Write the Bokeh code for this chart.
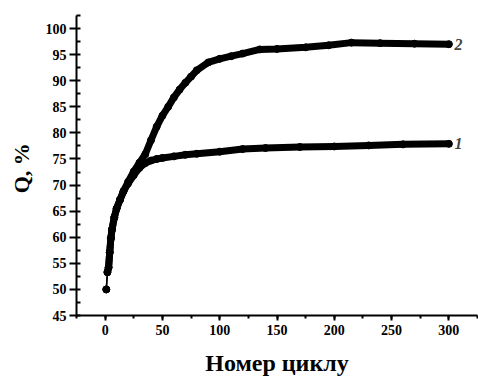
from bokeh.plotting import figure
from bokeh.models import Range1d, SingleIntervalTicker, Label
from bokeh.embed import file_html
from bokeh.resources import INLINE

# Curve 1
cycles_1 = [1, 2, 3, 4, 5, 6, 8, 10, 13, 16, 20, 25, 30, 35, 40, 45, 50, 60, 70, 80,
            100, 120, 140, 170, 200, 230, 260, 300]
q_1 = [50.0, 53.3, 54.2, 57.1, 59.8, 61.5, 63.8, 65.5, 67.2, 68.8, 70.3, 71.9, 73.3, 74.2,
       74.7, 75.0, 75.2, 75.5, 75.8, 76.0, 76.4, 76.9, 77.1, 77.3, 77.4, 77.6, 77.8, 77.9]

# Curve 2
cycles_2 = [1, 2, 3, 4, 5, 6, 8, 10, 13, 16, 20, 25, 30, 35, 40, 45, 50, 55, 60, 65, 70,
            75, 80, 90, 100, 110, 120, 135, 150, 175, 195, 215, 240, 270, 300]
q_2 = [50.0, 53.3, 54.2, 57.1, 59.8, 61.5, 63.8, 65.5, 67.2, 68.8, 70.6, 72.6, 74.3, 75.9,
       78.6, 81.2, 83.3, 85.0, 86.8, 88.3, 89.6, 90.8, 92.0, 93.5, 94.2, 94.7, 95.2, 96.0,
       96.1, 96.4, 96.8, 97.3, 97.2, 97.1, 97.0]

curve_labels = ["1", "2"]

FONT = "Liberation Serif"

p = figure(width=478, height=378, output_backend="svg", toolbar_location=None,
           x_range=Range1d(-25, 325), y_range=Range1d(45, 102.5),
           min_border_left=76, min_border_right=1, min_border_top=15, min_border_bottom=63)
p.outline_line_color = None
p.xgrid.visible = False
p.ygrid.visible = False
p.background_fill_color = "white"
p.border_fill_color = "white"

for cx, qy in ((cycles_1, q_1), (cycles_2, q_2)):
    p.line(cx, qy, line_color="black", line_width=1.5)
    p.line(cx[1:], qy[1:], line_color="black", line_width=7, line_join="round", line_cap="round")
    p.scatter(cx, qy, size=7, fill_color="black", line_color="black")

p.xaxis.ticker = SingleIntervalTicker(interval=50, num_minor_ticks=2)
p.yaxis.ticker = SingleIntervalTicker(interval=5, num_minor_ticks=2)

for ax in (p.xaxis[0], p.yaxis[0]):
    ax.axis_line_width = 2
    ax.major_tick_line_width = 2
    ax.minor_tick_line_width = 2
    ax.major_label_text_font = FONT
    ax.major_label_text_font_size = "14px"
    ax.major_label_text_font_style = "bold"
    ax.major_label_text_color = "black"
    ax.axis_label_text_font = FONT
    ax.axis_label_text_font_style = "bold"
    ax.axis_label_text_color = "black"

p.xaxis.major_tick_out = 5
p.xaxis.major_tick_in = 0
p.xaxis.minor_tick_out = 3
p.xaxis.minor_tick_in = 0
p.xaxis.major_label_standoff = 4
p.xaxis.axis_label = "Номер циклу"
p.xaxis.axis_label_text_font_size = "24px"
p.xaxis.axis_label_standoff = 12

p.yaxis.major_tick_out = 7
p.yaxis.major_tick_in = 0
p.yaxis.minor_tick_out = 0
p.yaxis.minor_tick_in = 4
p.yaxis.major_label_standoff = 3
p.yaxis.axis_label = "Q,  %"
p.yaxis.axis_label_text_font_size = "22px"
p.yaxis.axis_label_standoff = 9

p.add_layout(Label(x=cycles_2[-1] + 5, y=q_2[-1], text=curve_labels[1], text_font=FONT,
                   text_font_size="16px", text_font_style="bold italic",
                   text_baseline="middle", text_align="left"))
p.add_layout(Label(x=cycles_1[-1] + 5, y=q_1[-1], text=curve_labels[0], text_font=FONT,
                   text_font_size="16px", text_font_style="bold italic",
                   text_baseline="middle", text_align="left"))

open("out.html", "w").write(file_html(p, INLINE))
